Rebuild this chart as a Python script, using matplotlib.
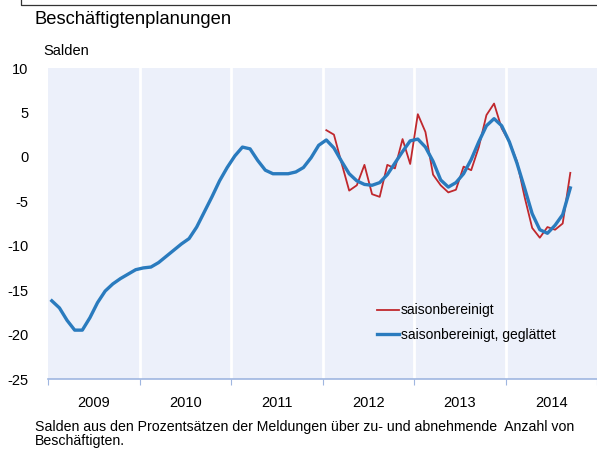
import numpy as np
import matplotlib.pyplot as plt
from matplotlib.lines import Line2D

plt.rcParams['font.family'] = ['Liberation Sans', 'DejaVu Sans']

# monthly values, Jan 2009 .. Sep 2014
geglaettet = [-16.2, -17.0, -18.4, -19.5, -19.5, -18.1, -16.4, -15.1, -14.3, -13.7, -13.2, -12.7,
              -12.5, -12.4, -11.9, -11.2, -10.5, -9.8, -9.2, -7.9, -6.2, -4.5, -2.7, -1.2,
              0.1, 1.1, 0.9, -0.4, -1.5, -1.9, -1.9, -1.9, -1.7, -1.2, -0.1, 1.3,
              1.9, 1.0, -0.5, -1.9, -2.7, -3.1, -3.2, -2.9, -2.0, -0.7, 0.6, 1.8,
              2.0, 1.1, -0.5, -2.6, -3.4, -2.9, -1.9, -0.3, 1.7, 3.5, 4.3, 3.5,
              1.7, -0.7, -3.5, -6.4, -8.2, -8.6, -7.7, -6.5, -3.5]
# monthly values, Jan 2012 .. Sep 2014
saisonbereinigt = [3.0, 2.5, -0.7, -3.8, -3.2, -0.9, -4.2, -4.5, -0.9, -1.3, 2.0, -0.8,
                   4.8, 2.8, -2.0, -3.2, -4.0, -3.7, -1.1, -1.5, 1.1, 4.7, 6.0, 3.2,
                   1.7, -0.5, -4.5, -8.0, -9.1, -7.9, -8.2, -7.5, -1.8]
start_year = 2009
red_start_year = 2012
years = ['2009', '2010', '2011', '2012', '2013', '2014']
yticks = [10, 5, 0, -5, -10, -15, -20, -25]

x_blue = start_year + (np.arange(len(geglaettet)) + 0.5) / 12
x_red = red_start_year + (np.arange(len(saisonbereinigt)) + 0.5) / 12

fig = plt.figure(figsize=(5.97, 4.57), dpi=100)
ax = fig.add_axes([48/597, 1 - 379/457, 1 - 48/597, 311/457])
ax.set_facecolor('#ECF0FA')

ax.plot(x_red, saisonbereinigt, color='#C0282D', lw=1.3, label='saisonbereinigt', zorder=3)
ax.plot(x_blue, geglaettet, color='#2A7BBE', lw=2.4, label='saisonbereinigt, geglättet', zorder=4)

ax.set_xlim(2009, 2015)
ax.set_ylim(-25, 10)
for yr in range(2010, 2015):
    ax.axvline(yr, color='white', lw=2, zorder=1)

ax.set_xticks(range(2009, 2016))
ax.set_xticklabels([])
ax.set_xticks([2009.5 + k for k in range(len(years))], minor=True)
ax.set_xticklabels(years, minor=True, fontsize=10.5)
ax.tick_params(axis='x', which='major', length=4, color='#9FB6E0', direction='out')
ax.tick_params(axis='x', which='minor', length=0, pad=12)
ax.set_yticks(yticks)
ax.set_yticklabels([str(v) for v in yticks], fontsize=10.5)
ax.tick_params(axis='y', length=0, pad=14)

for s in ['top', 'right', 'left']:
    ax.spines[s].set_visible(False)
ax.spines['bottom'].set_color('#9FB6E0')
ax.spines['bottom'].set_linewidth(1.2)

leg = ax.legend(loc='upper left', bbox_to_anchor=(0.577, 0.283), frameon=False,
                fontsize=10, handlelength=1.6, handletextpad=0.1, labelspacing=0.75)

fig.text(35/597, 1 - 19/457, 'Beschäftigtenplanungen', fontsize=13.2, va='center', ha='left')
fig.text(43/597, 1 - 51/457, 'Salden', fontsize=10.5, va='center', ha='left')
fig.text(35/597, 1 - 434/457, 'Salden aus den Prozentsätzen der Meldungen über zu- und abnehmende  Anzahl von\nBeschäftigten.',
         fontsize=10.2, va='center', ha='left', linespacing=1.05)

fig.add_artist(Line2D([21/597, 21/597, 1], [1, 1 - 5/457, 1 - 5/457], color='#333333', lw=0.9))

fig.savefig('out.png', dpi=100)
